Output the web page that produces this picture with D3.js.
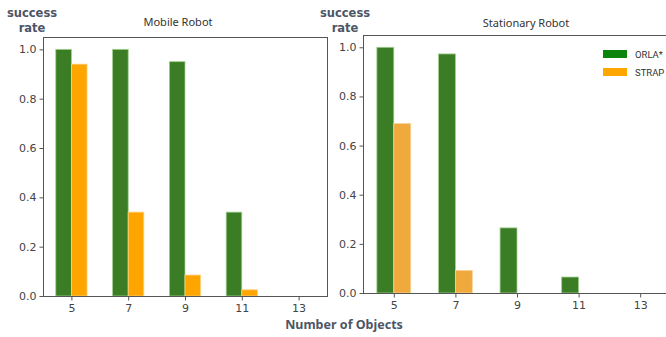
<!DOCTYPE html>
<html>
<head>
<meta charset="utf-8">
<script src="https://cdn.jsdelivr.net/npm/d3@7"></script>
<style>
  html, body { margin: 0; padding: 0; background: #fff; }
  svg { display: block; }
</style>
</head>
<body>
<svg id="chart" width="666" height="337"></svg>
<script>
// Number of objects on the table (x categories)
const objectCounts = [5, 7, 9, 11, 13];
const yTicks = [0.0, 0.2, 0.4, 0.6, 0.8, 1.0];

// Success rates, mobile robot
const mobileOrla = [1.0, 1.0, 0.95, 0.34, 0.0];
const mobileStrap = [0.94, 0.34, 0.085, 0.025, 0.0];

// Success rates, stationary robot
const stationaryOrla = [1.0, 0.973, 0.265, 0.065, 0.0];
const stationaryStrap = [0.69, 0.092, 0.0, 0.0, 0.0];

const seriesNames = ["ORLA*", "STRAP"];

const svg = d3.select("#chart");
const axisColor = "#555";
const tickTextColor = "#444";
const labelColor = "#4d5566";

const panels = [
  { title: "Mobile Robot", orla: mobileOrla, strap: mobileStrap,
    left: 43, right: 327, top: 37, bottom: 296, strapColor: "#ffa500",
    strapEdge: "#ffd27f", titleX: 178, titleY: 26, ylabX: 32, legend: false },
  { title: "Stationary Robot", orla: stationaryOrla, strap: stationaryStrap,
    left: 363, right: 671, top: 35, bottom: 293, strapColor: "#f0a93d",
    strapEdge: "#f8d49c", titleX: 526, titleY: 27, ylabX: 345, legend: true }
];

const orlaColor = "#3a7d24";
const orlaEdge = "#a3cf93";

panels.forEach(p => {
  const x = d3.scaleLinear().domain([4, 14]).range([p.left, p.right]);
  const y = d3.scaleLinear().domain([0, 1.05]).range([p.bottom, p.top]);
  const barW = x(4.55) - x(4);

  const g = svg.append("g");

  // bars
  const rows = objectCounts.map((n, i) => ({ n, orla: p.orla[i], strap: p.strap[i] }));
  g.selectAll("rect.orla").data(rows.filter(d => d.orla > 0)).join("rect")
    .attr("class", "orla")
    .attr("x", d => x(d.n) - barW)
    .attr("y", d => y(d.orla))
    .attr("width", barW)
    .attr("height", d => y(0) - y(d.orla))
    .attr("fill", orlaColor)
    .attr("stroke", orlaEdge)
    .attr("stroke-width", 0.8);
  g.selectAll("rect.strap").data(rows.filter(d => d.strap > 0)).join("rect")
    .attr("class", "strap")
    .attr("x", d => x(d.n))
    .attr("y", d => y(d.strap))
    .attr("width", barW)
    .attr("height", d => y(0) - y(d.strap))
    .attr("fill", p.strapColor)
    .attr("stroke", p.strapEdge)
    .attr("stroke-width", 0.8);

  // frame
  g.append("rect")
    .attr("x", p.left + 0.5).attr("y", p.top + 0.5)
    .attr("width", p.right - p.left).attr("height", p.bottom - p.top)
    .attr("fill", "none").attr("stroke", axisColor).attr("stroke-width", 1);

  // axes
  const yAxis = d3.axisLeft(y).tickValues(yTicks).tickFormat(d3.format(".1f"))
    .tickSize(4).tickPadding(3);
  const xAxis = d3.axisBottom(x).tickValues(objectCounts).tickSize(4).tickPadding(4);

  const ya = g.append("g").attr("transform", `translate(${p.left + 0.5},0)`).call(yAxis);
  const xa = g.append("g").attr("transform", `translate(0,${p.bottom + 0.5})`).call(xAxis);
  [ya, xa].forEach(a => {
    a.select(".domain").remove();
    a.selectAll("line").attr("stroke", axisColor);
    a.selectAll("text").attr("fill", tickTextColor)
      .style("font-family", "DejaVu Sans").style("font-size", "11px");
  });

  // title
  g.append("text").attr("x", p.titleX).attr("y", p.titleY).attr("text-anchor", "middle")
    .attr("fill", "#333").style("font-family", "Noto Sans").style("font-size", "11px")
    .text(p.title);

  // y label, two lines
  ["success", "rate"].forEach((w, i) => {
    g.append("text").attr("x", p.ylabX).attr("y", 17 + i * 15).attr("text-anchor", "middle")
      .attr("fill", labelColor).style("font-family", "DejaVu Sans")
      .style("font-weight", "bold").style("font-size", "11.5px").text(w);
  });

  if (p.legend) {
    const legendColors = ["#0a840a", "#ffa500"];
    const lg = g.append("g").attr("transform", "translate(603,50)");
    seriesNames.forEach((s, i) => {
      lg.append("rect").attr("x", 0).attr("y", i * 18).attr("width", 24).attr("height", 8)
        .attr("fill", legendColors[i]);
      lg.append("text").attr("x", 32).attr("y", i * 18 + 7.5)
        .attr("fill", "#333").style("font-family", "Liberation Sans Narrow, Roboto")
        .style("font-size", "9.5px").text(s);
    });
  }
});

// shared x label
svg.append("text").attr("x", 344).attr("y", 329).attr("text-anchor", "middle")
  .attr("fill", labelColor).style("font-family", "Noto Sans").style("font-weight", "bold")
  .style("font-size", "12.5px").text("Number of Objects");
</script>
</body>
</html>
